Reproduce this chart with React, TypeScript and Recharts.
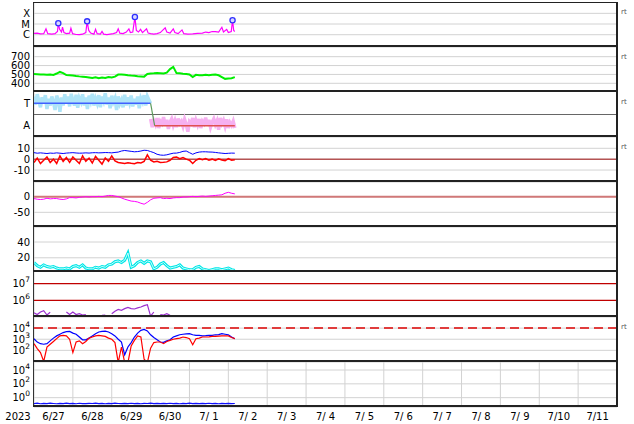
import React from "react";
import {
  ComposedChart,
  Line,
  Scatter,
  XAxis,
  YAxis,
  CartesianGrid,
  ReferenceLine,
} from "recharts";

const FONT = "DejaVu Sans";
const W = 634;
const PANEL_H = 45;
const TOP = 2;

// hours since 2023-06-27 00:00 (2h steps)
const hours = [
  0, 2, 4, 6, 8, 10, 12, 14, 16, 18, 20, 22, 24, 26, 28, 30, 32, 34, 36, 38,
  40, 42, 44, 46, 48, 50, 52, 54, 56, 58, 60, 62, 64, 66, 68, 70, 72, 74, 76, 78,
  80, 82, 84, 86, 88, 90, 92, 94, 96, 98, 100, 102, 104, 106, 108, 110, 112, 114, 116, 118,
  120, 122, 124,
];

// hourly steps, used by the IMF sector scatter
const hourly = [
  0, 1, 2, 3, 4, 5, 6, 7, 8, 9, 10, 11, 12, 13, 14, 15, 16, 17, 18, 19,
  20, 21, 22, 23, 24, 25, 26, 27, 28, 29, 30, 31, 32, 33, 34, 35, 36, 37, 38, 39,
  40, 41, 42, 43, 44, 45, 46, 47, 48, 49, 50, 51, 52, 53, 54, 55, 56, 57, 58, 59,
  60, 61, 62, 63, 64, 65, 66, 67, 68, 69, 70, 71, 72, 73, 74, 75, 76, 77, 78, 79,
  80, 81, 82, 83, 84, 85, 86, 87, 88, 89, 90, 91, 92, 93, 94, 95, 96, 97, 98, 99,
  100, 101, 102, 103, 104, 105, 106, 107, 108, 109, 110, 111, 112, 113, 114, 115, 116, 117, 118, 119,
  120, 121, 122, 123, 124,
];

// X-ray flux, log10(W/m2)
const xrayHours = [
  0, 2, 4, 6, 7.4, 8.5, 11, 13, 14.5, 15, 15.8, 17, 17.6, 18.5, 20, 22, 22.8, 23.8, 26, 28,
  30, 32, 32.8, 33.8, 35, 37, 38, 39, 41, 42, 43, 45, 47, 49, 51, 52, 53, 55, 57, 58.6,
  59.5, 61, 62.3, 63.2, 64.5, 65.8, 67, 69.5, 70.5, 72, 74, 76, 78, 81, 82, 84, 86, 87, 89, 91.4,
  92.5, 95, 98, 101, 104, 106, 108, 110, 112, 114, 116, 117, 119, 120, 121.8, 122.6, 123.3, 124,
];
const xrayLog = [
  -5.88, -5.85, -5.92, -5.9, -5.45, -5.9, -5.95, -5.9, -5.7, -4.93, -5.5, -5.75, -5.3, -5.8, -5.9, -5.85, -5.4, -5.9, -5.98, -6.0,
  -5.95, -5.8, -4.75, -5.6, -5.85, -5.95, -5.5, -5.9, -5.95, -5.7, -5.95, -6.0, -5.95, -5.9, -5.8, -5.45, -5.85, -5.9, -5.75, -5.45,
  -5.8, -5.75, -4.35, -5.6, -5.75, -5.5, -5.8, -5.45, -5.85, -5.9, -5.95, -5.9, -5.8, -5.35, -5.75, -5.85, -5.45, -5.8, -5.9, -5.55,
  -5.9, -5.95, -5.92, -5.88, -5.85, -5.75, -5.8, -5.7, -5.72, -5.75, -5.3, -5.75, -5.5, -5.8, -5.7, -4.65, -5.6, -5.7,
];
const flareHours = [15, 32.8, 62.3, 122.6];
const flareLog = [-4.93, -4.75, -4.35, -4.65];

const windSpeed = [
  505, 502, 498, 500, 497, 500, 495, 510, 528, 515,
  492, 490, 487, 482, 478, 475, 470, 465, 460, 468,
  458, 465, 460, 470, 466, 475, 498, 500, 497, 492,
  488, 485, 480, 478, 475, 505, 510, 512, 515, 513,
  510, 520, 560, 585, 515, 512, 508, 505, 500, 470,
  495, 492, 490, 495, 492, 497, 498, 490, 470, 450,
  455, 458, 470,
];

// IMF sector: toward (h 0-72) and away (h 72-124), 0..1 scale
const towardVals = [
  0.9, 0.72, 0.95, 0.8, 0.66, 0.88, 0.75, 0.93, 0.62, 0.85,
  0.7, 0.9, 0.78, 0.6, 0.92, 0.82, 0.56, 0.88, 0.7, 0.95,
  0.74, 0.9, 0.68, 0.96, 0.8, 0.7, 0.94, 0.65, 0.86, 0.78,
  0.95, 0.7, 0.88, 0.62, 0.92, 0.8, 0.96, 0.7, 0.85, 0.75,
  0.93, 0.66, 0.9, 0.8, 0.97, 0.72, 0.88, 0.64, 0.92, 0.78,
  0.86, 0.6, 0.9, 0.74, 0.82, 0.66, 0.94, 0.7, 0.88, 0.76,
  0.92, 0.68, 0.85, 0.72, 0.9, 0.64, 0.86, 0.78, 0.93, 0.7,
  0.9, 0.82, 0.75,
];
const awayVals = [
  0.4, 0.22, 0.36, 0.28, 0.42, 0.2, 0.35, 0.3, 0.44, 0.25,
  0.38, 0.18, 0.33, 0.4, 0.26, 0.36, 0.22, 0.41, 0.3, 0.35,
  0.24, 0.39, 0.28, 0.12, 0.34, 0.3, 0.42, 0.22, 0.37, 0.27,
  0.4, 0.2, 0.35, 0.3, 0.43, 0.25, 0.38, 0.22, 0.33, 0.4,
  0.28, 0.36, 0.16, 0.42, 0.3, 0.37, 0.24, 0.39, 0.2, 0.32,
  0.26, 0.35, 0.2,
];
const sectorHours = [0, 72, 74.5, 124];
const sectorVals = [0.75, 0.75, 0.25, 0.25];

const bt = [
  6, 5.5, 5.8, 5.5, 5.2, 5.6, 5.4, 5.8, 5.5, 5.2,
  5.6, 5.8, 6, 5.7, 5.5, 5.6, 5.8, 5.6, 5.9, 6,
  5.8, 5.9, 6.1, 6, 5.8, 6.2, 6.5, 7.5, 8, 7.6,
  7.2, 6.8, 7, 7.5, 8.2, 8, 7, 6, 4.5, 3.8,
  3.6, 4, 4.8, 5.5, 5.6, 6.2, 7.2, 7.5, 6, 4.5,
  5.8, 6.5, 6.8, 6.8, 6.6, 6.5, 6.2, 5.8, 5.5, 5.2,
  5.4, 5.6, 5.5,
];
const bz = [
  -3, 1, -4, -1, 2, -3, 0, -4, 3, -2,
  1.5, -3, 2, -1, -4, 3, -2, 1, -3.5, 2.5,
  -1, -4.5, 1, -2, 3, -1.5, -3, -3.5, -4, -3.2,
  -3.8, -4.2, -3, -3.5, -2, 4, -1, -2.5, -2, -3,
  -2.8, -2.5, -1, 1.5, 2, 0.5, 1.5, 0, -1, -4,
  -1, 0.5, -0.5, 0.5, -1, 0, -1.2, 0.3, -0.8, -1.5,
  0.5, -1, -0.5,
];
const dst = [
  -6, -8, -9, -8, -5, -7, -6, -6, -8, -9,
  -7, -3, -3, -4, -2, -1, 0, -1, 0, 0,
  1, 0, 2, 4, 4, 2, 0, -4, -8, -11,
  -14, -15, -17, -21, -24, -18, -10, -5, -4, -3,
  -6, -5, -6, -4, -3, -3, -1, -1, 0, 1,
  0, 1, 2, 1, 2, 3, 4, 5, 6, 11,
  14, 11, 9,
];
const density = [
  14, 10, 8, 11, 9, 8, 9, 7, 6, 6,
  7, 6, 9, 10, 8, 11, 7, 6, 6, 8,
  7, 9, 8, 11, 12, 15, 16, 14, 17, 26,
  8, 10, 14, 16, 13, 16, 15, 6, 8, 12,
  14, 10, 7, 8, 9, 11, 7, 6, 5, 5,
  8, 9, 6, 5, 4, 5, 6, 6, 5, 6,
  7, 5, 4,
];
const electronLog = [
  5.25, 5.15, 5.3, 5.38, 5.12, 5.28, null, null, null, null,
  5.3, 5.15, 5.3, 5.15, 5.2, 5.12, 5.15, null, null, null,
  null, 5.1, 5.12, null, 5.2, 5.35, 5.45, 5.4, 5.5, 5.58,
  5.5, 5.48, 5.55, 5.6, 5.68, 5.74, 5.05, 5.3, null, 5.15,
  5.12, 5.2, 5.1, null, null, null, null, null, null, null,
  null, null, null, null, null, null, null, null, null, null,
  null, null, null,
];
const protonBlueLog = [
  3.04, 2.74, 2.6, 2.55, 2.6, 2.85, 3.1, 3.3, 3.45, 3.6,
  3.68, 3.7, 3.55, 3.45, 3.2, 2.95, 2.95, 3.1, 3.3, 3.5,
  3.65, 3.7, 3.73, 3.65, 3.5, 3.3, 3.0, 2.75, 1.6, 2.3,
  2.7, 3.2, 3.55, 3.8, 3.88, 3.75, 3.4, 3.15, 2.95, 2.75,
  2.72, 2.85, 2.95, 3.2, 3.3, 3.4, 3.45, 3.48, 3.5, 3.4,
  3.35, 3.35, 3.3, 3.32, 3.35, 3.35, 3.4, 3.42, 3.5, 3.45,
  3.4, 3.2, 3.05,
];
const protonRedLog = [
  2.6, 2.15, 1.8, 1.0, 2.3, 2.55, 2.8, 3.05, 3.3, 3.35,
  3.3, 3.0, 1.8, 2.75, 2.85, 2.6, 2.8, 3.1, 3.2, 3.3,
  3.35, 3.3, 3.25, 3.1, 3.0, 2.7, 0.9, 2.3, 0.9, 0.9,
  2.4, 2.9, 3.3, 3.2, 1.2, 0.9, 2.2, 2.7, 2.75, 2.75,
  2.6, 2.8, 2.9, 3.0, 3.05, 3.1, 3.2, 3.15, 3.05, 2.5,
  3.05, 3.1, 3.2, 3.2, 3.22, 3.25, 3.25, 3.28, 3.3, 3.3,
  3.3, 3.15, 3.05,
];
const lowFluxLog = [
  -0.85, -0.8, -0.88, -0.82, -0.86, -0.8, -0.84, -0.88, -0.82, -0.85,
  -0.8, -0.86, -0.83, -0.88, -0.81, -0.85, -0.87, -0.82, -0.84, -0.8,
  -0.86, -0.83, -0.88, -0.82, -0.85, -0.8, -0.84, -0.87, -0.82, -0.85,
  -0.81, -0.86, -0.83, -0.88, -0.82, -0.84, -0.8, -0.86, -0.83, -0.87,
  -0.82, -0.85, -0.81, -0.86, -0.84, -0.88, -0.82, -0.85, -0.8, -0.86,
  -0.83, -0.87, -0.82, -0.85, -0.81, -0.86, -0.84, -0.88, -0.82, -0.85,
  -0.83, -0.86, -0.84,
];

const dayTicks = [0, 24, 48, 72, 96, 120, 144, 168, 192, 216, 240, 264, 288, 312, 336, 360];
const dayLabels = ["6/27", "6/28", "6/29", "6/30", "7/ 1", "7/ 2", "7/ 3", "7/ 4", "7/ 5", "7/ 6", "7/ 7", "7/ 8", "7/ 9", "7/10", "7/11"];
const yearLabel = "2023";

const zip = (xs: number[], vs: (number | null)[]) => xs.map((h, i) => ({ h, v: vs[i] }));
const rows = (vs: (number | null)[]) => zip(hours, vs);

const textTick = (labels?: Record<string, string>) => (p: any) => (
  <text x={p.x} y={p.y} dy="0.35em" textAnchor="end" fontSize={10} fontFamily={FONT} fill="#000">
    {labels ? labels[String(p.payload.value)] : p.payload.value}
  </text>
);

const logTick = (p: any) => (
  <text x={p.x} y={p.y} dy="0.35em" textAnchor="end" fontSize={10} fontFamily={FONT} fill="#000">
    <tspan>10</tspan>
    <tspan dy={-5} fontSize={7.5}>{p.payload.value}</tspan>
  </text>
);

const XTick = (p: any) => {
  const i = p.index;
  if (i >= dayLabels.length) return <g />;
  return (
    <g>
      {i === 0 && (
        <text x={p.x - 16} y={p.y + 13} textAnchor="middle" fontSize={10} fontFamily={FONT} fill="#000">
          {yearLabel}
        </text>
      )}
      <text x={p.x + 19.5} y={p.y + 13} textAnchor="middle" fontSize={10} fontFamily={FONT} fill="#000">
        {dayLabels[i]}
      </text>
    </g>
  );
};

function Panel({ index, domain, ticks, tick, grid = true, xLabels = false, children }: any) {
  const height = PANEL_H + (xLabels ? 17 : 0);
  return (
    <div style={{ position: "absolute", left: 0, top: TOP + index * PANEL_H }}>
      <ComposedChart width={W} height={height} margin={{ top: 0, right: 17, bottom: 0, left: 0 }}>
        <CartesianGrid stroke="#d2d2d2" horizontal={grid} vertical />
        <XAxis
          dataKey="h"
          type="number"
          domain={[0, 360]}
          ticks={dayTicks}
          interval={0}
          allowDataOverflow
          axisLine={false}
          tickLine={false}
          tickSize={0}
          tickMargin={0}
          height={xLabels ? 17 : 0}
          tick={xLabels ? XTick : false}
        />
        <YAxis
          type="number"
          domain={domain}
          ticks={ticks}
          interval={0}
          allowDataOverflow
          width={34}
          axisLine={false}
          tickLine={false}
          tickSize={0}
          tickMargin={4}
          tick={tick}
        />
        {children}
      </ComposedChart>
    </div>
  );
}

const line = (key: string, data: any[], stroke: string, width = 1) => (
  <Line
    key={key}
    data={data}
    dataKey="v"
    stroke={stroke}
    strokeWidth={width}
    dot={false}
    activeDot={false}
    connectNulls={false}
    isAnimationActive={false}
  />
);

export default function App() {
  const separators = [1, 2, 3, 4, 5, 6, 7, 8, 9];
  const rtPanels = [0, 1, 2, 3, 7];
  return (
    <div style={{ position: "absolute", left: 0, top: 0, width: W, height: 424, background: "#fff" }}>
      <Panel index={0} domain={[-7.15, -2.94]} ticks={[-6, -5, -4]} tick={textTick({ "-6": "C", "-5": "M", "-4": "X" })}>
        {line("xray", zip(xrayHours, xrayLog), "#ff00ff", 1.2)}
        <Scatter
          data={zip(flareHours, flareLog)}
          dataKey="v"
          isAnimationActive={false}
          shape={(p: any) => <circle cx={p.cx} cy={p.cy} r={2.6} fill="#d8d8ff" stroke="#3030ff" strokeWidth={1.3} />}
        />
      </Panel>

      <Panel index={1} domain={[302, 809]} ticks={[400, 500, 600, 700]} tick={textTick()}>
        {line("speed", rows(windSpeed), "#00ee00", 2)}
      </Panel>

      <Panel index={2} domain={[0, 1]} ticks={[0.25, 0.75]} grid={false} tick={textTick({ "0.25": "A", "0.75": "T" })}>
        <ReferenceLine y={0.5} stroke="#666" strokeWidth={1} />
        {line("toward", zip(hourly.slice(0, 73), towardVals), "#aee4f8", 3.5)}
        {line("away", zip(hourly.slice(72), awayVals), "#f6b0f0", 3.5)}
        {line("sectT", zip(sectorHours.slice(0, 2), sectorVals.slice(0, 2)), "#4060ff", 1.5)}
        {line("sectX", zip(sectorHours.slice(1, 3), sectorVals.slice(1, 3)), "#5a9a5a", 1.2)}
        {line("sectA", zip(sectorHours.slice(2, 4), sectorVals.slice(2, 4)), "#e05050", 1.5)}
      </Panel>

      <Panel index={3} domain={[-21, 20.4]} ticks={[-10, 0, 10]} tick={textTick()}>
        <ReferenceLine y={0} stroke="#a01010" strokeWidth={1} />
        {line("bt", rows(bt), "#0000ff", 1)}
        {line("bz", rows(bz), "#ff0000", 1.5)}
      </Panel>

      <Panel index={4} domain={[-97, 47]} ticks={[-50, 0]} tick={textTick()}>
        <ReferenceLine y={0} stroke="#d07878" strokeWidth={2} />
        {line("dst", rows(dst), "#ff00ff", 1)}
      </Panel>

      <Panel index={5} domain={[2, 59]} ticks={[20, 40]} tick={textTick()}>
        {line("densOuter", rows(density), "#00e6e6", 3)}
        {line("densInner", rows(density), "#c8ffff", 1)}
      </Panel>

      <Panel index={6} domain={[5, 7.7]} ticks={[6, 7]} grid={false} tick={logTick}>
        <ReferenceLine y={6} stroke="#c00000" strokeWidth={1.2} />
        <ReferenceLine y={7} stroke="#c00000" strokeWidth={1.2} />
        {line("electron", rows(electronLog), "#9b30d0", 1.2)}
      </Panel>

      <Panel index={7} domain={[0.95, 5]} ticks={[2, 3, 4]} tick={logTick}>
        <ReferenceLine y={4} stroke="#e03c3c" strokeWidth={2} strokeDasharray="9 5" />
        {line("pBlue", rows(protonBlueLog), "#0000ff", 1.2)}
        {line("pRed", rows(protonRedLog), "#ff0000", 1.2)}
      </Panel>

      <Panel index={8} domain={[-1.35, 5.16]} ticks={[0, 2, 4]} tick={logTick} xLabels>
        {line("low", rows(lowFluxLog), "#1010ff", 1.2)}
      </Panel>

      {/* frame */}
      <div style={{ position: "absolute", left: 33, top: TOP, width: 1, height: 405, background: "#333" }} />
      <div style={{ position: "absolute", left: 616, top: TOP, width: 1.5, height: 405, background: "#222" }} />
      <div style={{ position: "absolute", left: 33, top: TOP, width: 584, height: 1.2, background: "#222" }} />
      {separators.map((k) => (
        <div key={k} style={{ position: "absolute", left: 33, top: 45 * k, width: 584, height: 2, background: "#222" }} />
      ))}
      {rtPanels.map((k) => (
        <div
          key={"rt" + k}
          style={{ position: "absolute", left: 621, top: TOP + k * PANEL_H + 6, fontSize: 7, fontFamily: FONT, color: "#555", lineHeight: "8px" }}
        >
          rt
        </div>
      ))}
    </div>
  );
}
